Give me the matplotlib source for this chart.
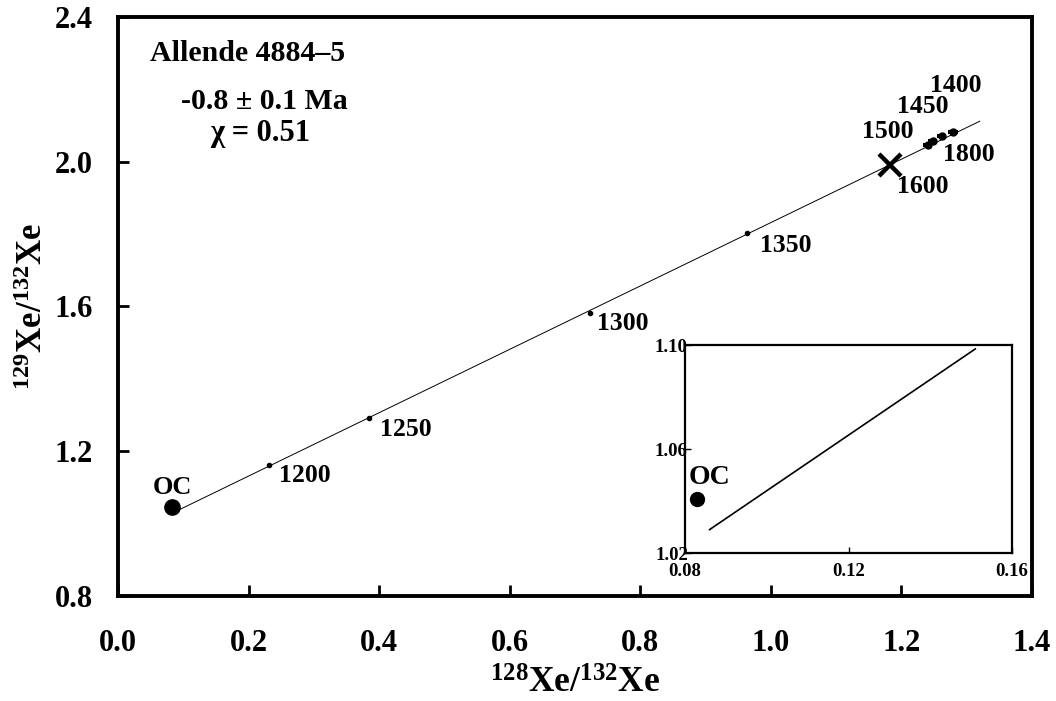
import matplotlib
matplotlib.use("Agg")
import matplotlib.pyplot as plt

plt.rcParams['font.family'] = ['Liberation Serif', 'DejaVu Serif']
plt.rcParams['font.weight'] = 'bold'
plt.rcParams['mathtext.fontset'] = 'custom'
plt.rcParams['mathtext.bf'] = 'Liberation Serif:bold'
plt.rcParams['mathtext.rm'] = 'Liberation Serif:bold'

# Data
step_labels = ["1200", "1250", "1300", "1350"]
step_x = [0.231, 0.384, 0.723, 0.963]
step_y = [1.162, 1.292, 1.583, 1.804]

cluster_labels = ["1400", "1450", "1500", "1800"]
cluster_x = [1.279, 1.262, 1.248, 1.240]
cluster_y = [2.083, 2.072, 2.056, 2.045]

x1600 = [1.182]
y1600 = [1.990]

oc_x = [0.083]
oc_y = [1.045]

line_x = [0.09, 1.32]
line_y = [1.035, 2.112]

inset_line_x = [0.086, 0.151]
inset_line_y = [1.029, 1.0985]
inset_oc_x = [0.083]
inset_oc_y = [1.0408]

xticks = [0.0, 0.2, 0.4, 0.6, 0.8, 1.0, 1.2, 1.4]
yticks = [0.8, 1.2, 1.6, 2.0, 2.4]
inset_xticks = [0.08, 0.12, 0.16]
inset_yticks = [1.02, 1.06, 1.10]

fig = plt.figure(figsize=(10.56, 7.01), dpi=100)
ax = fig.add_axes([0.1117, 0.1498, 0.8656, 0.826])

ax.plot(line_x, line_y, color='black', lw=0.7, zorder=2)
ax.plot(step_x, step_y, 'o', color='black', ms=3, zorder=3)
ax.errorbar(cluster_x, cluster_y, xerr=0.007, fmt='o', color='black', ms=5,
            elinewidth=3, capsize=0, zorder=3)
ax.plot(x1600, y1600, 'x', color='black', ms=16, mew=3.2, zorder=3)
ax.plot(oc_x, oc_y, 'o', color='black', ms=11, zorder=3)

lab_fs = 18.5
step_lab_pos = [(0.247, 1.132), (0.401, 1.259), (0.733, 1.552), (0.983, 1.768)]
for t, (x, y) in zip(step_labels, step_lab_pos):
    ax.text(x, y, t, fontsize=lab_fs, fontweight='bold', ha='left', va='center')
cl_lab_pos = [(1.243, 2.211), (1.193, 2.153), (1.139, 2.084), (1.263, 2.02)]
for t, (x, y) in zip(cluster_labels, cl_lab_pos):
    ax.text(x, y, t, fontsize=lab_fs, fontweight='bold', ha='left', va='center')
ax.text(1.193, 1.931, "1600", fontsize=lab_fs, fontweight='bold', ha='left', va='center')
ax.text(0.083, 1.10, "OC", fontsize=19, fontweight='bold', ha='center', va='center')

ax.text(0.049, 2.30, "Allende 4884\u20135", fontsize=21.5, fontweight='bold', ha='left', va='center')
ax.text(0.224, 2.167, "-0.8 \u00b1 0.1 Ma", fontsize=21.5, fontweight='bold', ha='center', va='center')
ax.text(0.218, 2.078, "\u03c7 = 0.51", fontsize=22, fontweight='bold', ha='center', va='center')

ax.set_xlim(0.0, 1.4)
ax.set_ylim(0.8, 2.4)
ax.set_xticks(xticks)
ax.set_xticklabels([f"{v:.1f}" for v in xticks])
ax.set_yticks(yticks)
ax.set_yticklabels([f"{v:.1f}" for v in yticks])
ax.tick_params(direction='in', length=8, width=2, labelsize=22)
ax.tick_params(axis='x', pad=24)
ax.tick_params(axis='y', pad=18)
for lab in ax.get_xticklabels() + ax.get_yticklabels():
    lab.set_fontweight('bold')
for s in ax.spines.values():
    s.set_linewidth(2.8)

ax.set_xlabel(r'$\mathbf{^{128}Xe/^{132}Xe}$', fontsize=25.5, labelpad=7)
ax.set_ylabel(r'$\mathbf{^{129}Xe/^{132}Xe}$', fontsize=25, labelpad=3)

# Inset
ins = fig.add_axes([0.6487, 0.2111, 0.3097, 0.2967])
ins.plot(inset_line_x, inset_line_y, color='black', lw=1.2)
ins.plot(inset_oc_x, inset_oc_y, 'o', color='black', ms=10)
ins.text(0.0859, 1.0492, "OC", fontsize=20, fontweight='bold', ha='center', va='center')
ins.set_xlim(0.08, 0.16)
ins.set_ylim(1.02, 1.10)
ins.set_xticks(inset_xticks)
ins.set_xticklabels([f"{v:.2f}" for v in inset_xticks])
ins.set_yticks(inset_yticks)
ins.set_yticklabels([f"{v:.2f}" for v in inset_yticks])
ins.tick_params(direction='in', length=4, width=1, labelsize=13.5)
ins.tick_params(axis='y', pad=-2)
ins.tick_params(axis='x', pad=7)
for lab in ins.get_xticklabels() + ins.get_yticklabels():
    lab.set_fontweight('bold')
for s in ins.spines.values():
    s.set_linewidth(1.6)

fig.savefig("out.png", dpi=100)
